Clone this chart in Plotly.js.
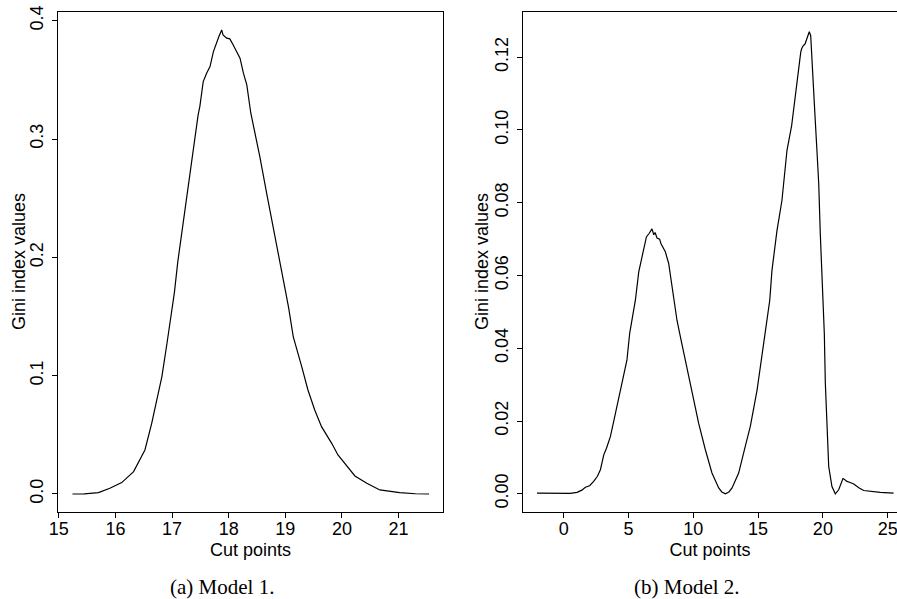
<!DOCTYPE html>
<html>
<head>
<meta charset="utf-8">
<script src="https://cdn.plot.ly/plotly-3.0.1.min.js"></script>
<style>html,body{margin:0;padding:0;background:#fff;}#chart{width:897px;height:599px;}</style>
</head>
<body>
<div id="chart"></div>
<script>
// Model 1: cut points vs Gini index values
var model1X = [15.24, 15.45, 15.70, 15.90, 16.11, 16.32, 16.52, 16.64, 16.73, 16.82, 16.91, 17.00, 17.04, 17.10, 17.17, 17.29, 17.40, 17.46, 17.49, 17.55, 17.61, 17.67, 17.73, 17.79, 17.83, 17.876, 17.90, 17.965, 18.02, 18.08, 18.14, 18.20, 18.26, 18.32, 18.39, 18.55, 18.67, 18.79, 18.90, 19.01, 19.06, 19.14, 19.29, 19.40, 19.52, 19.64, 19.82, 19.93, 20.23, 20.44, 20.67, 21.02, 21.30, 21.54];
var model1Y = [0, 0.0001, 0.0011, 0.0048, 0.0096, 0.0189, 0.0372, 0.0597, 0.0795, 0.0992, 0.1274, 0.1555, 0.170, 0.1960, 0.2204, 0.2626, 0.302, 0.3204, 0.3274, 0.3485, 0.3556, 0.3612, 0.3739, 0.3823, 0.387, 0.3922, 0.388, 0.3852, 0.3846, 0.3795, 0.3739, 0.3683, 0.3556, 0.3457, 0.322, 0.2851, 0.2542, 0.2232, 0.195, 0.1697, 0.157, 0.133, 0.1076, 0.0879, 0.071, 0.0569, 0.0428, 0.033, 0.0152, 0.009, 0.0034, 0.0011, 0.0002, 0];

// Model 2: cut points vs Gini index values
var model2X = [-2.06, -1.0, 0.0, 0.5, 1.03, 1.4, 1.67, 2.0, 2.31, 2.6, 2.83, 3.0, 3.09, 3.3, 3.6, 3.99, 4.2, 4.37, 4.63, 4.88, 5.09, 5.35, 5.53, 5.79, 6.0, 6.17, 6.38, 6.6, 6.81, 6.95, 7.05, 7.2, 7.4, 7.5, 7.7, 7.84, 8.10, 8.30, 8.5, 8.74, 9.0, 9.38, 9.72, 10.08, 10.41, 10.93, 11.44, 11.96, 12.2, 12.47, 12.75, 12.99, 13.5, 14.01, 14.4, 14.92, 15.3, 15.64, 15.9, 16.07, 16.46, 16.84, 17.23, 17.59, 17.98, 18.23, 18.29, 18.36, 18.49, 18.62, 18.75, 18.85, 18.95, 19.06, 19.14, 19.21, 19.31, 19.39, 19.54, 19.68, 19.80, 19.93, 20.01, 20.11, 20.19, 20.32, 20.45, 20.7, 20.96, 21.22, 21.45, 21.55, 21.65, 21.86, 22.1, 22.38, 22.8, 23.15, 24.43, 25.46];
var model2Y = [0.0002, 0.0001, 0.0, 0.0001, 0.0004, 0.001, 0.0018, 0.0022, 0.0034, 0.0048, 0.0066, 0.0095, 0.0107, 0.0125, 0.0157, 0.0221, 0.0255, 0.0285, 0.0322, 0.0368, 0.0441, 0.0496, 0.0532, 0.061, 0.0645, 0.0669, 0.0706, 0.0716, 0.0728, 0.0712, 0.0718, 0.0703, 0.0700, 0.0688, 0.0675, 0.0665, 0.0633, 0.058, 0.0532, 0.0477, 0.0432, 0.0368, 0.0313, 0.0249, 0.0194, 0.0121, 0.0057, 0.0016, 0.0005, 0.0, 0.0005, 0.0016, 0.0057, 0.013, 0.0185, 0.0285, 0.0386, 0.0468, 0.0532, 0.0614, 0.0724, 0.0806, 0.0944, 0.1012, 0.1131, 0.1195, 0.1213, 0.1223, 0.1232, 0.1236, 0.1250, 0.1255, 0.1270, 0.1259, 0.1213, 0.1149, 0.1085, 0.1040, 0.0944, 0.0852, 0.0715, 0.0605, 0.0532, 0.0441, 0.0304, 0.0167, 0.0075, 0.002, 0.0, 0.0011, 0.0030, 0.0042, 0.0040, 0.0034, 0.0031, 0.0027, 0.0016, 0.0009, 0.0004, 0.0002];

var xTicks1 = [15, 16, 17, 18, 19, 20, 21];
var yTicks1 = [0, 0.1, 0.2, 0.3, 0.4];
var yTickText1 = ['0.0', '0.1', '0.2', '0.3', '0.4'];
var xTicks2 = [0, 5, 10, 15, 20, 25];
var yTicks2 = [0, 0.02, 0.04, 0.06, 0.08, 0.10, 0.12];
var yTickText2 = ['0.00', '0.02', '0.04', '0.06', '0.08', '0.10', '0.12'];

var xTitle = 'Cut points';
var yTitle = 'Gini index values';
var caption1 = '(a) Model 1.';
var caption2 = '(b) Model 2.';

var sans = 'Liberation Sans, Arial, Helvetica, sans-serif';
var serif = 'Liberation Serif, Times New Roman, serif';

var traces = [
  {x: model1X, y: model1Y, xaxis: 'x', yaxis: 'y', type: 'scatter', mode: 'lines',
   line: {color: '#000', width: 1.2}, hoverinfo: 'x+y', showlegend: false},
  {x: model2X, y: model2Y, xaxis: 'x2', yaxis: 'y2', type: 'scatter', mode: 'lines',
   line: {color: '#000', width: 1.2}, hoverinfo: 'x+y', showlegend: false}
];

function xAxis(domain, range, ticks, anchor) {
  return {
    domain: domain, range: range, anchor: anchor,
    tickmode: 'array', tickvals: ticks,
    showline: true, mirror: true, linecolor: '#000', linewidth: 1,
    ticks: 'outside', ticklen: 5, tickwidth: 1, tickcolor: '#000',
    ticklabelstandoff: -5, ticklabeloverflow: 'allow',
    showgrid: false, zeroline: false, automargin: false,
    tickfont: {family: sans, size: 18, color: '#000'},
    title: {text: xTitle, font: {family: sans, size: 18, color: '#000'}, standoff: 5}
  };
}
function yAxis(domain, range, ticks, text, anchor, mirror) {
  return {
    domain: domain, range: range, anchor: anchor,
    tickmode: 'array', tickvals: ticks, ticktext: text, tickangle: -90,
    showline: true, mirror: mirror, linecolor: '#000', linewidth: 1,
    ticks: 'outside', ticklen: 5, tickwidth: 1, tickcolor: '#000',
    ticklabelstandoff: 2, ticklabeloverflow: 'allow',
    showgrid: false, zeroline: false, automargin: false,
    tickfont: {family: sans, size: 18, color: '#000'}
  };
}

var layout = {
  width: 897, height: 599,
  margin: {l: 0, r: 0, t: 0, b: 0},
  paper_bgcolor: '#fff', plot_bgcolor: '#fff',
  xaxis: xAxis([0.065, 0.4935], [14.99, 21.78], xTicks1, 'y'),
  yaxis: yAxis([0.1447, 0.9805], [-0.0155, 0.4076], yTicks1, yTickText1, 'x', true),
  xaxis2: xAxis([0.5831, 1.0], [-3.14, 25.72], xTicks2, 'y2'),
  yaxis2: yAxis([0.1447, 0.9805], [-0.0051, 0.1325], yTicks2, yTickText2, 'x2', false),
  annotations: [
    {text: yTitle, xref: 'paper', yref: 'paper', x: 19 / 897, y: 0.5626, xanchor: 'center', yanchor: 'middle',
     textangle: -90, showarrow: false, font: {family: sans, size: 18, color: '#000'}},
    {text: yTitle, xref: 'paper', yref: 'paper', x: 482 / 897, y: 0.5626, xanchor: 'center', yanchor: 'middle',
     textangle: -90, showarrow: false, font: {family: sans, size: 18, color: '#000'}},
    {text: caption1, xref: 'paper', yref: 'paper', x: 0.247, y: 0.02, xanchor: 'center', yanchor: 'middle',
     showarrow: false, font: {family: serif, size: 21, color: '#000'}},
    {text: caption2, xref: 'paper', yref: 'paper', x: 0.766, y: 0.02, xanchor: 'center', yanchor: 'middle',
     showarrow: false, font: {family: serif, size: 21, color: '#000'}}
  ]
};

Plotly.newPlot('chart', traces, layout, {displayModeBar: false, staticPlot: true});
</script>
</body>
</html>
